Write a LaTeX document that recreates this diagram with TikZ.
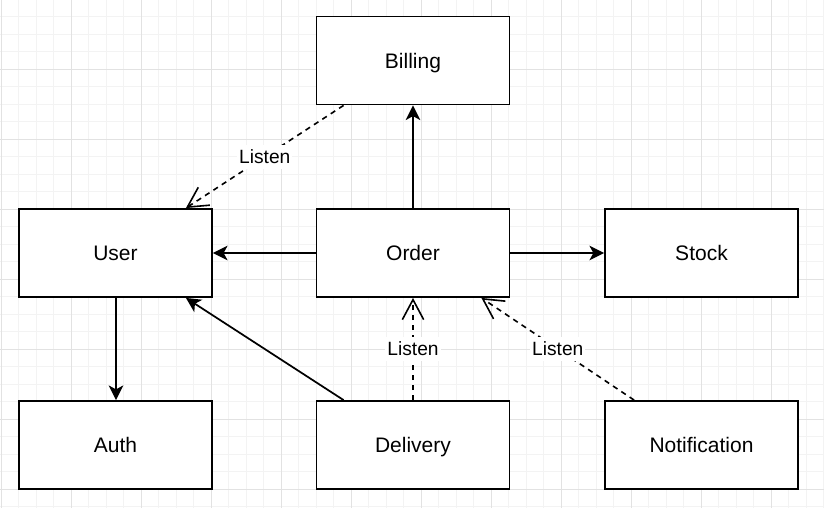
\documentclass[tikz,border=0pt]{standalone}
\usepackage{fontspec}
\setmainfont{Liberation Sans}
\usetikzlibrary{arrows.meta}
\definecolor{minorgrid}{RGB}{243, 243, 243}
\definecolor{majorgrid}{RGB}{226, 226, 226}

\tikzset{
	box/.style = {draw, line width = 1.4pt, fill = white, minimum width = 144.75pt, minimum height = 66pt, text height = 14.3pt, text depth = 3pt, font = \fontsize{15.75}{18}\selectfont},
	link/.style = {line width = 1.3pt, -{Stealth[length = 11pt, width = 11pt, inset = 3pt]}},
	listen/.style = {line width = 1.2pt, dash pattern = on 4pt off 3.5pt, -{Straight Barb[length = 15pt, width = 16pt]}},
	lbl/.style = {fill = white, inner sep = 1.5pt, text height = 12.8pt, text depth = 2.5pt, font = \fontsize{14.4}{16}\selectfont}
}

\begin{document}
\begin{tikzpicture}[x = 0.75pt, y = -0.75pt]
	\fill[white] (0,0) rectangle (824,508);
	\useasboundingbox (0,0) rectangle (824,508);
	% grid
	\foreach \i in {0,...,47} {
		\draw[minorgrid, line width = 0.6pt] ({1+17.5*\i},0) -- ({1+17.5*\i},508);
	}
	\foreach \j in {0,...,29} {
		\draw[minorgrid, line width = 0.6pt] (0,{-1+17.5*\j}) -- (824,{-1+17.5*\j});
	}
	\foreach \i in {0,...,11} {
		\draw[majorgrid, line width = 0.6pt] ({1+70*\i},0) -- ({1+70*\i},508);
	}
	\foreach \j in {0,...,7} {
		\draw[majorgrid, line width = 0.6pt] (0,{-1+70*\j}) -- (824,{-1+70*\j});
	}

	\node (billing) at (413,60.5) [box] {Billing};
	\node (user) at (115.5,253) [box] {User};
	\node (order) at (413,253) [box] {Order};
	\node (stock) at (701.5,253) [box] {Stock};
	\node (auth) at (115.5,445) [box] {Auth};
	\node (delivery) at (413,445) [box] {Delivery};
	\node (notification) at (701.5,445) [box] {Notification};

	\draw[link] (order) -- (billing);
	\draw[link] (order) -- (user);
	\draw[link] (order) -- (stock);
	\draw[link] ([xshift = 0.375pt]user.south) -- ([xshift = 0.375pt]auth.north);
	\draw[link] ([xshift = 21pt]delivery.north west) -- ([xshift = -20.25pt]user.south east);
	\draw[listen] ([xshift = 21pt]billing.south west) -- node[lbl] {Listen} ([xshift = -20.25pt]user.north east);
	\draw[listen] (delivery) -- node[lbl] {Listen} (order);
	\draw[listen] ([xshift = 22.5pt]notification.north west) -- node[lbl] {Listen} ([xshift = -21.75pt]order.south east);
\end{tikzpicture}
\end{document}
